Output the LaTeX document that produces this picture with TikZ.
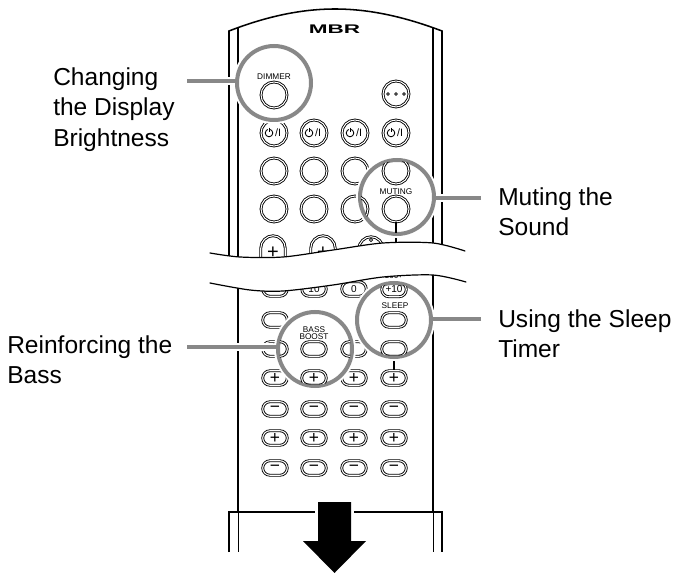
\documentclass[tikz,border=0pt]{standalone}
\usepackage{fontspec}
\setmainfont{Liberation Sans}
\usepackage{xcolor}
\definecolor{lensgray}{RGB}{136,136,136}
\usetikzlibrary{shapes.misc}
\tikzset{
  roundbtn/.style={circle, draw, double, line width=0.65pt, double distance=0.8pt, minimum size=19.5pt, inner sep=0pt},
  capbtn/.style={rounded rectangle, draw, double, line width=0.65pt, double distance=0.8pt, minimum width=18.4pt, minimum height=10.9pt, inner sep=0pt, font=\fontsize{13}{13}\selectfont},
  topbtn/.style={rectangle, rounded corners=9.5pt, draw, double, line width=0.65pt, double distance=0.8pt, minimum width=18.4pt, minimum height=26pt, inner sep=0pt, font=\fontsize{15}{15}\selectfont},
  numtext/.style={font=\fontsize{7.5}{7.5}\selectfont},
  btnlabel/.style={font=\fontsize{6.2}{5.3}\selectfont, align=center, inner sep=0pt},
  caption/.style={font=\fontsize{18.4}{22.9}\selectfont, align=left, inner sep=0pt, anchor=north west},
  lens/.style={circle, draw=lensgray, line width=3pt, fill=white, minimum size=55.5pt, inner sep=0pt, preaction={draw=white, line width=6pt}},
  leader/.style={draw=lensgray, line width=3pt},
  leadergap/.style={draw=white, line width=5.4pt, shorten >=2pt},
  bodyline/.style={line width=1.15pt},
  thinline/.style={line width=0.6pt},
  wave/.style={line width=0.9pt, line cap=round},
  powermark/.pic={
    \draw[line width=0.65pt] (-5,0) circle (3.8);
    \draw[white, line width=1.6pt] (-5,-5) -- (-5,-2);
    \draw[line width=0.65pt] (-5,-5.4) -- (-5,-1);
    \node[inner sep=0pt, font=\fontsize{8}{8}\selectfont] (-slash) at (4,0) {/I};
  }
}
\begin{document}
\begin{tikzpicture}[x=0.75pt, y=-0.75pt]
  \useasboundingbox (0,0) rectangle (673,573);

  % remote body, upper part
  \draw[bodyline] (229,262) -- (229,31) .. controls (265,17) and (300,9) .. (335,9) .. controls (370,9) and (405,17) .. (442,31) -- (442,262);
  \draw[bodyline] (238,262) -- (238,28);
  \draw[bodyline] (433,262) -- (433,28);
  \node[font=\bfseries\fontsize{9.4}{9.4}\selectfont, xscale=1.8, inner sep=0pt] (logo) at (334.5,29.5) {MBR};

  % upper buttons
  \node[roundbtn] (dots) at (396,94) {};
  \foreach \x in {388,396,404}
    \draw[thinline] (\x,94) circle (1.4);
  \foreach \x in {274,314,355,396} {
    \node[roundbtn] (pow\x) at (\x,133) {};
    \pic (pm\x) at (\x,133) {powermark};
  }
  \foreach \x in {274,314,355} {
    \node[roundbtn] (rowa\x) at (\x,171) {};
    \node[roundbtn] (rowb\x) at (\x,209) {};
  }
  \node[topbtn] (topa) at (273,253) {+};
  \node[topbtn] (topb) at (323,253) {+};
  \node[topbtn] (topc) at (371,254) {};
  \draw[thinline] (371,240) circle (1.6);
  \draw[bodyline] (396,238) -- (396,250);

  % lower body
  \draw[bodyline] (238,275) -- (238,512);
  \draw[bodyline] (433,270) -- (433,512);
  \draw[bodyline] (229,552) -- (229,512) -- (315,512);
  \draw[bodyline] (354,512) -- (442,512) -- (442,552);
  \draw[thinline] (238,512) -- (238,552);
  \draw[thinline] (433,512) -- (433,552);

  % lower buttons
  \node[capbtn] (tena) at (275,289) {};
  \node[capbtn, numtext] (tenb) at (314,289) {10};
  \node[capbtn, numtext] (tenc) at (354,289) {0};
  \node[btnlabel] (hundred) at (394,275.5) {100+};
  \node[capbtn] (sleepa) at (275,320) {};
  \node[capbtn] (bassa) at (275,349) {};
  \node[capbtn] (bassc) at (354,349) {};
  \foreach \x in {275,354,394}
    \node[capbtn] (plusa\x) at (\x,378) {+};
  \draw[bodyline] (394,360) -- (394,370);
  \foreach \x in {275,314,354,394} {
    \node[capbtn] (minb\x) at (\x,409) {−};
    \node[capbtn] (plusb\x) at (\x,438) {+};
    \node[capbtn] (minc\x) at (\x,468) {−};
  }

  % break across the remote
  \fill[white] plot[smooth] coordinates {(210,253) (240,257) (283,257) (333,250) (383,243) (433,243) (465,251)}
    -- plot[smooth] coordinates {(466,282) (433,275) (383,277) (333,285) (283,291) (250,290) (210,283)} -- cycle;
  \draw[wave] plot[smooth] coordinates {(210,253) (240,257) (283,257) (333,250) (383,243) (433,243) (465,251)};
  \draw[wave] plot[smooth] coordinates {(210,283) (250,290) (283,291) (333,285) (383,277) (433,275) (466,282)};

  % lenses
  \node[lens] (ldimmer) at (274,83) {};
  \begin{scope}
    \clip (ldimmer) circle (36);
    \node[roundbtn] (dimbtn) at (274,95) {};
    \node[btnlabel] (dimtxt) at (274,77) {DIMMER};
  \end{scope}

  \node[lens] (lmuting) at (397,197) {};
  \begin{scope}
    \clip (lmuting) circle (36);
    \node[roundbtn] (mutup) at (396,171) {};
    \node[roundbtn] (mutbtn) at (396,209) {};
    \node[roundbtn] (mutside) at (355,209) {};
    \node[btnlabel] (muttxt) at (396,192) {MUTING};
    \draw[bodyline] (396,222) -- (396,240);
  \end{scope}

  \node[lens] (lsleep) at (394,320) {};
  \begin{scope}
    \clip (lsleep) circle (36);
    \node[capbtn, numtext] (tend) at (394,289.5) {+10};
    \node[capbtn] (sleepbtn) at (394,320) {};
    \node[capbtn] (sleepdn) at (394,349) {};
    \node[btnlabel] (sleeptxt) at (395,305.5) {SLEEP};
  \end{scope}

  \node[lens] (lbass) at (315,349) {};
  \begin{scope}
    \clip (lbass) circle (36);
    \node[capbtn] (bassbtn) at (314,349) {};
    \node[capbtn] (bassleft) at (275,349) {};
    \node[capbtn] (bassright) at (354,349) {};
    \node[capbtn] (bassplus) at (314,378) {+};
    \node[btnlabel] (basstxt) at (314,333.5) {BASS\\BOOST};
  \end{scope}

  % captions and leaders
  \node[caption] (capdim) at (53,67) {Changing\\the Display\\Brightness};
  \node[caption] (capbass) at (7,335) {Reinforcing the\\Bass};
  \node[caption] (capmut) at (498,187) {Muting the\\Sound};
  \node[caption] (capsleep) at (498,309) {Using the Sleep\\Timer};

  \coordinate (dimfree) at (187,81);
  \coordinate (bassfree) at (187,347);
  \coordinate (mutfree) at (481,198);
  \coordinate (sleepfree) at (481,319);
  \foreach \free/\lens/\side in {dimfree/ldimmer/west, bassfree/lbass/west, mutfree/lmuting/east, sleepfree/lsleep/east} {
    \draw[leadergap] (\free) -- (\lens.\side |- \free);
    \draw[leader] (\free) -- (\lens.\side |- \free);
  }

  % arrow
  \fill (318,502) -- (351,502) -- (351,541) -- (366,541) -- (334.5,573) -- (303,541) -- (318,541) -- cycle;
\end{tikzpicture}
\end{document}
